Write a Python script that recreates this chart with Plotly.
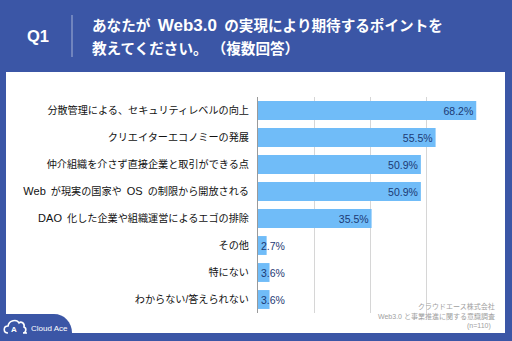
import re
import plotly.graph_objects as go

categories = [
    "分散管理による、セキュリティレベルの向上",
    "クリエイターエコノミーの発展",
    "仲介組織を介さず直接企業と取引ができる点",
    "Web が現実の国家や OS の制限から開放される",
    "DAO 化した企業や組織運営によるエゴの排除",
    "その他",
    "特にない",
    "わからない/答えられない",
]
values = [68.2, 55.5, 50.9, 50.9, 35.5, 2.7, 3.6, 3.6]
labels = [f"{v:.1f}%" for v in values]

title_lines = ["あなたが Web3.0 の実現により期待するポイントを", "教えてください。\u00a0（複数回答）"]
question = "Q1"
notes = ["クラウドエース株式会社", "Web3.0 と事業推進に関する意識調査", "(n=110)  "]
brand = "Cloud Ace"

W, H = 512, 341
L, R, T, B = 258, 30, 97, 28
PW, PH = W - L - R, H - T - B

def px(x):
    return (x - L) / PW

def py(y):
    return (H - B - y) / PH

BLUE = "#3b56a6"
BAR = "#70bcf8"
NAVY = "#1c3a74"
JP = "Liberation Sans, Noto Sans CJK JP"
LAT = "Liberation Sans, Arial"

LATIN_RE = re.compile(r"([A-Za-z0-9.]+)")

def fmt(s, latin_size, space):
    out = ""
    for part in LATIN_RE.split(s):
        if part and LATIN_RE.fullmatch(part):
            out += f'<span style="font-size:{latin_size}px">{part}</span>'
        else:
            out += part.replace(" ", space)
    return out

tick_text = [fmt(c, 11, "\u2002") for c in categories]

positions = ["inside" if v >= 10 else "none" for v in values]

fig = go.Figure()
fig.add_trace(go.Bar(
    x=values, y=categories, orientation="h",
    marker=dict(color=BAR, line=dict(width=0)),
    text=labels, textposition=positions, insidetextanchor="end",
    textfont=dict(family=LAT, size=10.5, color=NAVY),
    hoverinfo="skip",
))

annotations = []
for c, v, t, p in zip(categories, values, labels, positions):
    if p == "none":
        annotations.append(dict(x=0, y=c, xref="x", yref="y", text=t, showarrow=False,
                                xanchor="left", yanchor="middle", xshift=1,
                                font=dict(family=LAT, size=10.5, color=NAVY)))

annotations.append(dict(x=px(38), y=py(36), xref="paper", yref="paper", text="<b>" + question + "</b>",
                        showarrow=False, xanchor="center", yanchor="middle",
                        font=dict(family=JP, size=16.5, color="white")))
for i, line in enumerate(title_lines):
    annotations.append(dict(x=px(90), y=py(25 + 23 * i), xref="paper", yref="paper",
                            text="<b>" + fmt(line, 17, "\u2002") + "</b>", showarrow=False,
                            xanchor="left", yanchor="middle",
                            font=dict(family=JP, size=14.6, color="white")))
for i, n in enumerate(notes):
    annotations.append(dict(x=px(497), y=py(306 + 10 * i), xref="paper", yref="paper",
                            text=n, showarrow=False, xanchor="right", yanchor="middle",
                            font=dict(family=JP, size=7, color="#a0a0a0")))
annotations.append(dict(x=px(28.5), y=py(328), xref="paper", yref="paper", text=brand,
                        showarrow=False, xanchor="left", yanchor="middle",
                        font=dict(family=LAT, size=8, color="white")))
annotations.append(dict(x=px(13.5), y=py(329.5), xref="paper", yref="paper", text="<b>A</b>",
                        showarrow=False, xanchor="center", yanchor="middle",
                        font=dict(family=LAT, size=8, color="white")))

shapes = [
    dict(type="rect", xref="paper", yref="paper", x0=px(6), x1=px(505), y0=py(333), y1=py(72),
         fillcolor="white", line=dict(width=0), layer="below"),
    dict(type="line", xref="paper", yref="paper", x0=px(72), x1=px(72), y0=py(15), y1=py(57),
         line=dict(color="rgba(255,255,255,0.55)", width=1)),
    dict(type="path", xref="paper", yref="paper",
         path=(f"M {px(0)},{py(341)} L {px(0)},{py(314)} L {px(54)},{py(314)} "
               f"C {px(64)},{py(314)} {px(72)},{py(322)} {px(72)},{py(333)} "
               f"L {px(72)},{py(341)} Z"),
         fillcolor=BLUE, line=dict(width=0), layer="above"),
    dict(type="path", xref="paper", yref="paper",
         path=(f"M {px(8)},{py(333)} C {px(3)},{py(333)} {px(3)},{py(326)} {px(8)},{py(326)} "
               f"C {px(9)},{py(320)} {px(17)},{py(319)} {px(19)},{py(323)} "
               f"C {px(21)},{py(321)} {px(25)},{py(323)} {px(24)},{py(327)} "
               f"C {px(27)},{py(328)} {px(26)},{py(333)} {px(23)},{py(333)} L {px(27)},{py(333)}"),
         line=dict(color="white", width=1.6), layer="above"),
]

fig.update_layout(
    width=W, height=H,
    margin=dict(l=L, r=R, t=T, b=B, pad=0),
    paper_bgcolor=BLUE, plot_bgcolor="white",
    showlegend=False, bargap=0.3,
    annotations=annotations, shapes=shapes,
)
fig.update_xaxes(range=[0, 70], dtick=17.5, tick0=0, showticklabels=False,
                 showgrid=True, gridcolor="#d6d6d6", gridwidth=1, zeroline=False,
                 fixedrange=True)
fig.update_yaxes(autorange="reversed", showline=True, linecolor="#9a9a9a", linewidth=1,
                 ticks="", ticklabelstandoff=6,
                 tickmode="array", tickvals=categories, ticktext=tick_text,
                 tickfont=dict(family=JP, size=10.15, color="#111111"), fixedrange=True)

fig.write_html("out.html")
